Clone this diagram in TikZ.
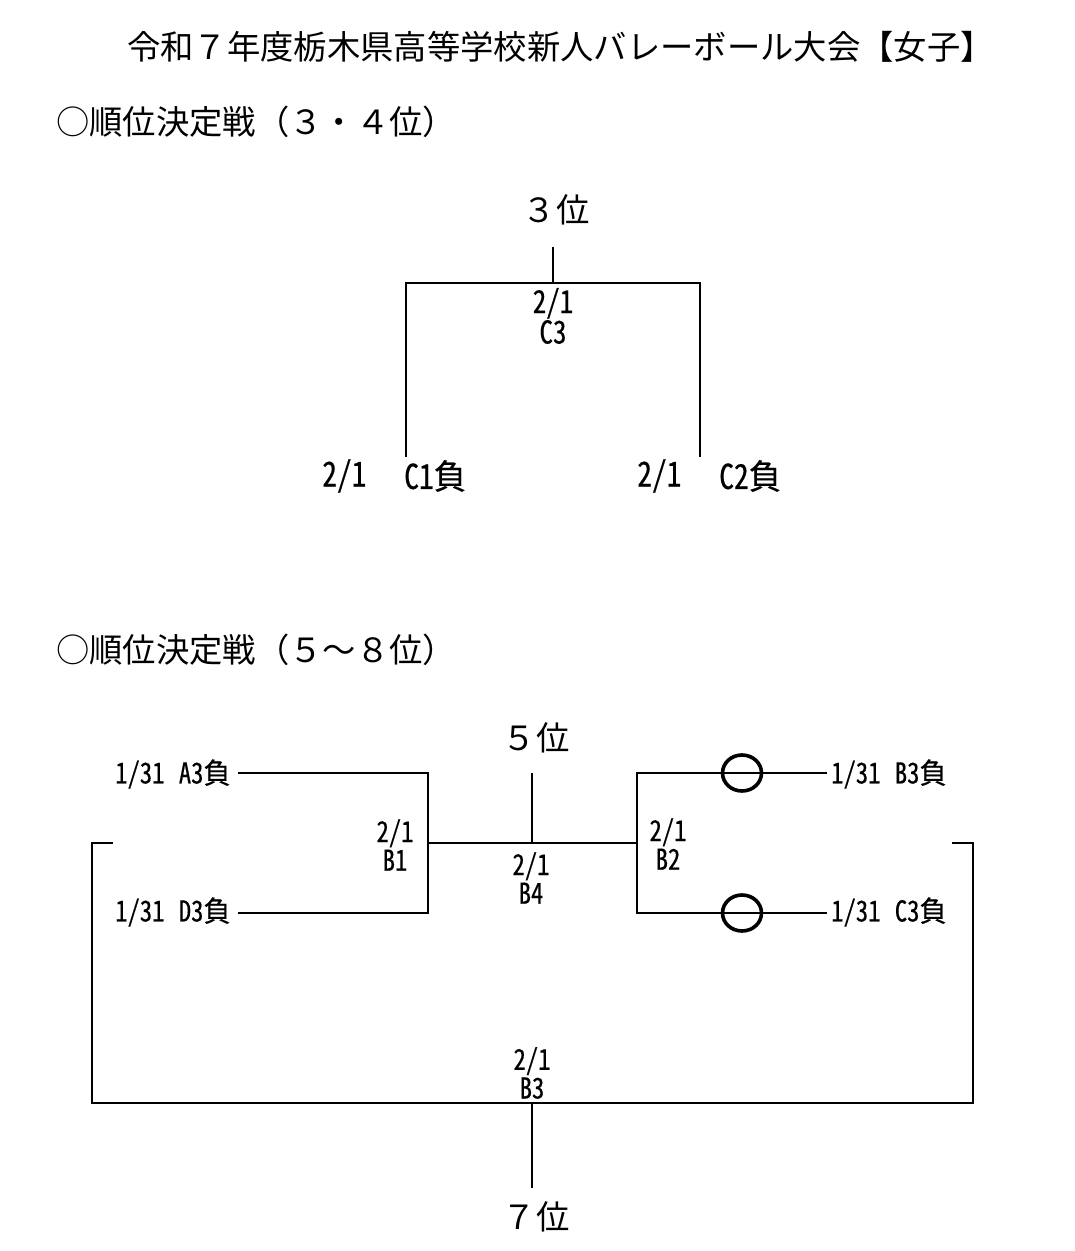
\documentclass[tikz,border=0pt]{standalone}
\usepackage{fontspec}
\setmainfont{Noto Sans CJK JP}
\newfontfamily\lblfont[RawFeature=+hwid,FakeBold=0.5]{Noto Sans CJK JP}
\newcommand\nrw[1]{\scalebox{0.9}[1.05]{#1}}
\newcommand\mk{\scalebox{1}[1.05]{負}}
\begin{document}
\begin{tikzpicture}[x=0.75pt,y=-0.75pt,
  line/.style={line width=0.8pt,black},
  ring/.style={line width=2.7pt,black},
  bigtxt/.style={font=\fontsize{25pt}{30pt}\selectfont,inner sep=0pt},
  placetxt/.style={font=\fontsize{25pt}{30pt}\selectfont,inner sep=0pt},
  lblA/.style={font=\lblfont\fontsize{24.5pt}{20.5pt}\selectfont,inner sep=0pt,align=center},
  lblC/.style={font=\lblfont\fontsize{22.5pt}{21pt}\selectfont,inner sep=0pt,align=center},
  lblB/.style={font=\lblfont\fontsize{20.5pt}{21.5pt}\selectfont,inner sep=0pt,align=center}]
\useasboundingbox[fill=white] (0,0) rectangle (1074,1251);

% titles
\node[bigtxt,anchor=west] (title) at (127,47) {令和７年度栃木県高等学校新人バレーボール大会【女子】};
\node[bigtxt,anchor=west] (h1) at (56,122) {○順位決定戦（３・４位）};
\node[bigtxt,anchor=west] (h2) at (56,650) {○順位決定戦（５～８位）};

% ---------- section 1 ----------
\node[placetxt] (p3) at (556,210) {３位};
\coordinate (s1top) at (553,247);
\coordinate (s1mid) at (553,283);
\coordinate (s1l) at (406,283);
\coordinate (s1lb) at (406,457);
\coordinate (s1r) at (700,283);
\coordinate (s1rb) at (700,457);
\draw[line] (s1top) -- (s1mid);
\draw[line] (s1lb) -- (s1l) -- (s1r) -- (s1rb);
\node[lblC] (c3) at (553,316) {\nrw{2/1}\\\nrw{C3}};
\node[lblA,anchor=west] (c1d) at (322,476) {\nrw{2/1}};
\node[lblA,anchor=west] (c1t) at (404,476) {\nrw{C1}\mk};
\node[lblA,anchor=west] (c2d) at (637,476) {\nrw{2/1}};
\node[lblA,anchor=west] (c2t) at (719,476) {\nrw{C2}\mk};

% ---------- section 2 ----------
\node[placetxt] (p5) at (536,738) {５位};
\node[placetxt] (p7) at (536,1217) {７位};

\node[lblB,anchor=west] (a3) at (115,774) {\nrw{1/31\hspace{12pt}A3}\mk};
\node[lblB,anchor=west] (d3) at (115,912) {\nrw{1/31\hspace{12pt}D3}\mk};
\node[lblB,anchor=west] (b3) at (831,774) {\nrw{1/31\hspace{12pt}B3}\mk};
\node[lblB,anchor=west] (c3l) at (831,912) {\nrw{1/31\hspace{12pt}C3}\mk};

\node[lblB] (gb1) at (395,845) {\nrw{2/1}\\\nrw{B1}};
\node[lblB] (gb4) at (531,878) {\nrw{2/1}\\\nrw{B4}};
\node[lblB] (gb2) at (668,844) {\nrw{2/1}\\\nrw{B2}};
\node[lblB] (gb3) at (532,1073) {\nrw{2/1}\\\nrw{B3}};

% B1 bracket
\coordinate (a3e) at (238,773);
\coordinate (d3e) at (238,913);
\coordinate (b1t) at (428,773);
\coordinate (b1b) at (428,913);
\coordinate (b1m) at (428,843);
\draw[line] (a3e) -- (b1t) -- (b1b) -- (d3e);
% B2 bracket
\coordinate (b2t) at (637,773);
\coordinate (b2b) at (637,913);
\coordinate (b2m) at (637,843);
\coordinate (b3e) at (827,773);
\coordinate (c3e) at (827,913);
\draw[line] (b3e) -- (b2t) -- (b2b) -- (c3e);
% B4 final
\draw[line] (b1m) -- (b2m);
\coordinate (b4m) at (532,843);
\coordinate (p5e) at (532,773);
\draw[line] (p5e) -- (b4m);
% circles
\draw[ring] (742,773) ellipse [x radius=19.5, y radius=18];
\draw[ring] (742,913) ellipse [x radius=19.5, y radius=18];
% B3 outer bracket
\coordinate (ol) at (113,843);
\coordinate (olc) at (92,843);
\coordinate (olb) at (92,1103);
\coordinate (orb) at (973,1103);
\coordinate (orc) at (973,843);
\coordinate (or) at (952,843);
\draw[line] (ol) -- (olc) -- (olb) -- (orb) -- (orc) -- (or);
\coordinate (b3m) at (532,1103);
\coordinate (p7e) at (532,1188);
\draw[line] (b3m) -- (p7e);
\end{tikzpicture}
\end{document}
